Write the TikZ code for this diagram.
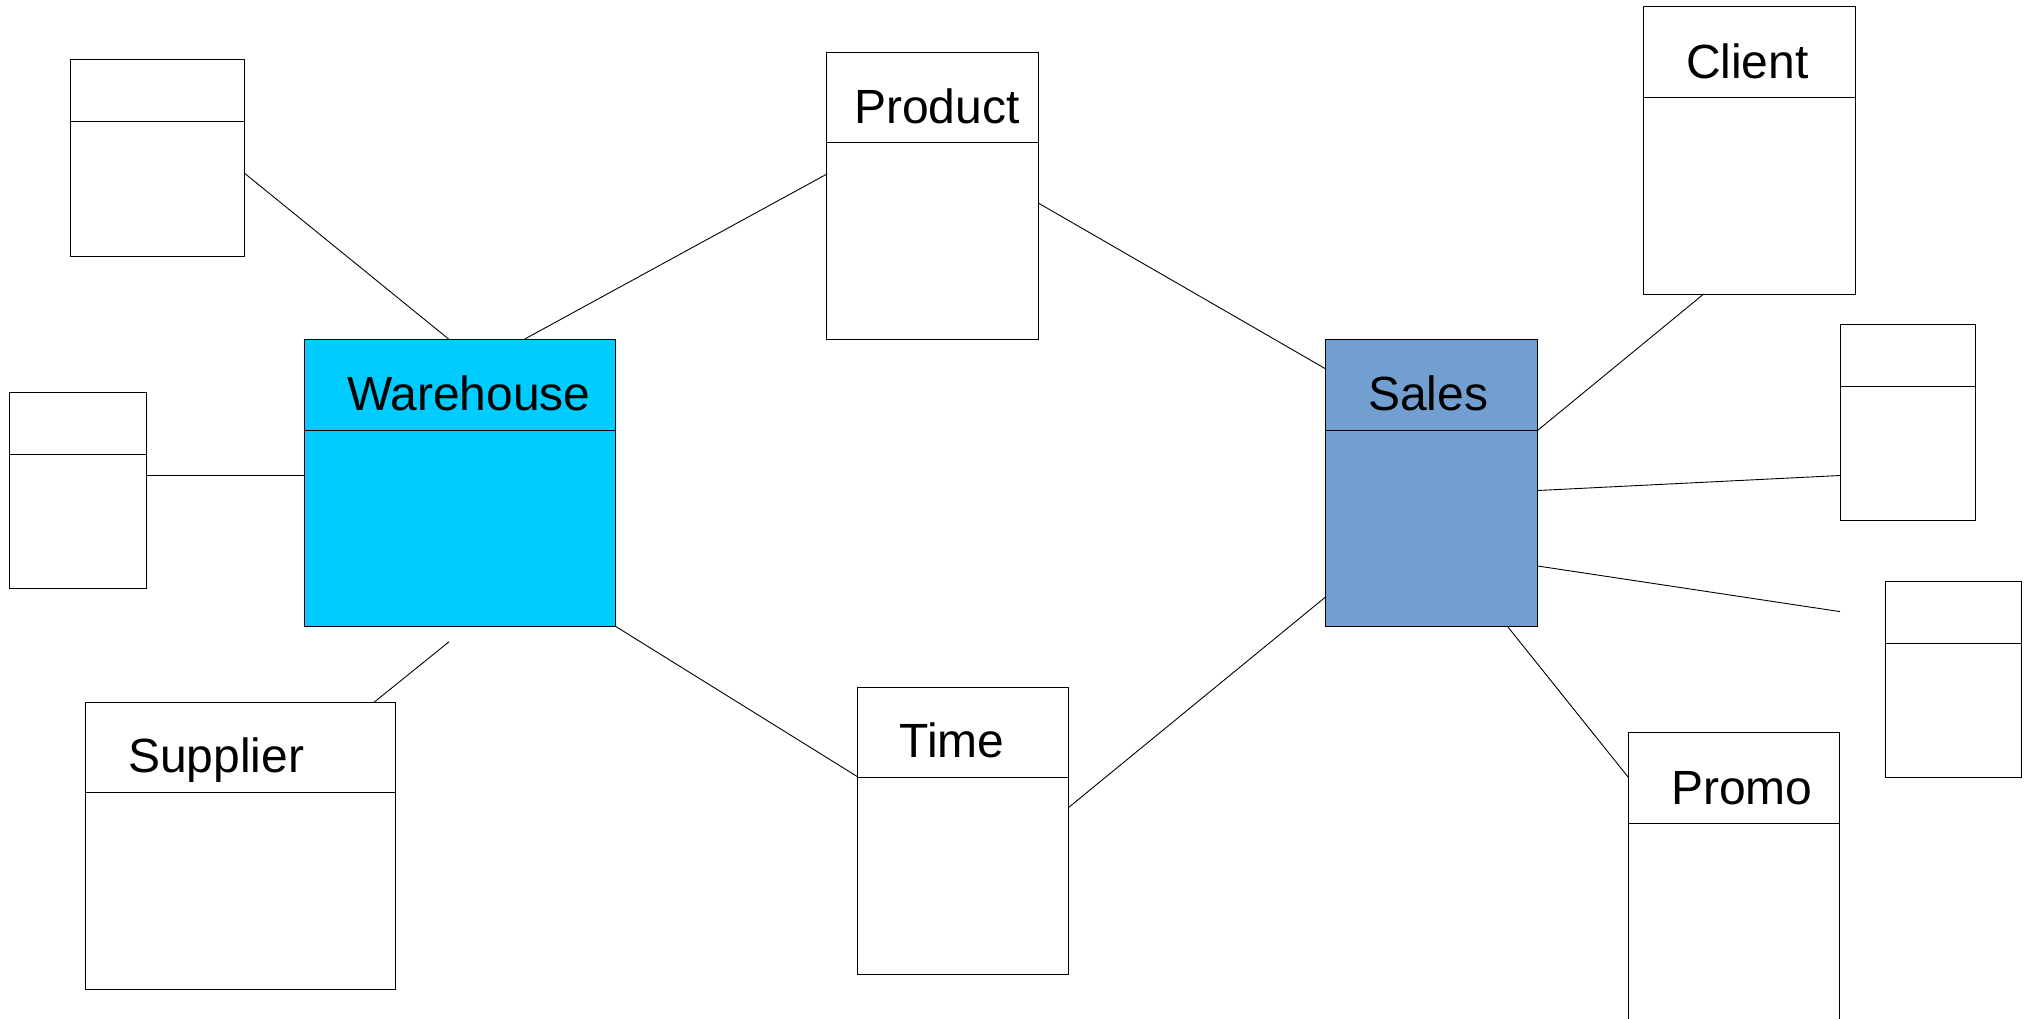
\documentclass[tikz,border=0pt]{standalone}
\usepackage{fontspec}
\setmainfont{Liberation Sans}
\definecolor{whfill}{HTML}{00CCFF}
\definecolor{salesfill}{HTML}{729FCF}
\tikzset{
  cls/.style 2 args={draw=black, line width=1pt, rectangle, anchor=north west,
    inner sep=0pt, outer sep=0pt, minimum width=#1, minimum height=#2},
  title/.style={anchor=base west, inner sep=0pt, outer sep=0pt,
    font=\fontsize{48}{57}\selectfont},
  link/.style={draw=black, line width=0.9pt},
  divider/.style={draw=black, line width=1pt}
}
\begin{document}
\begin{tikzpicture}[x=1pt, y=-1pt]
  \clip (0,0) rectangle (2033,1018);
  \fill[white] (0,0) rectangle (2033,1018);

  % class boxes
  \node[cls={174.1pt}{196.9pt}] (a1) at (70.5,59.3) {};
  \node[cls={136.6pt}{196.1pt}] (a2) at (9.8,392.6) {};
  \node[cls={310.4pt}{287.1pt}, fill=whfill] (wh) at (304.9,339.1) {};
  \node[cls={211.6pt}{286.9pt}] (prod) at (826.8,52.2) {};
  \node[cls={211.8pt}{287.1pt}, fill=salesfill] (sales) at (1325.9,339.1) {};
  \node[cls={211.6pt}{287.4pt}] (client) at (1643.6,6.6) {};
  \node[cls={135.9pt}{196.1pt}] (a3) at (1840,324.2) {};
  \node[cls={136.1pt}{196.3pt}] (a4) at (1885.5,581.4) {};
  \node[cls={211.3pt}{287pt}] (promo) at (1628.6,732.3) {};
  \node[cls={310.2pt}{287pt}] (supp) at (85.6,702.3) {};
  \node[cls={211.3pt}{286.7pt}] (time) at (857.5,687.3) {};

  % header dividers
  \foreach \n/\d in {a1/62.6, a2/61.8, wh/91.2, prod/90.4, sales/91.2,
                     client/90.8, a3/62.2, a4/61.9, promo/90.7, supp/90.4, time/90.4}
    \draw[divider] ([yshift=-\d pt]\n.north west) -- ([yshift=-\d pt]\n.north east);

  % titles
  \node[title] (twh) at (347,410.4) {Warehouse};
  \node[title] (tprod) at (854,123.1) {Product};
  \node[title] (tsales) at (1368,410.4) {Sales};
  \node[title] (tclient) at (1686,78.8) {Client};
  \node[title] (tpromo) at (1671,804) {Promo};
  \node[title] (tsupp) at (128,772.7) {Supplier};
  \node[title] (ttime) at (899.5,757.3) {Time};

  % free ends of the two open connectors
  \coordinate (suppend) at (449.1,641.7);
  \coordinate (salesend) at (1840,611.6);

  % connectors
  \draw[link] ([yshift=-114pt]a1.north east) -- ([xshift=143.8pt]wh.north west);
  \draw[link] ([xshift=219.7pt]wh.north west) -- ([yshift=-121.9pt]prod.north west);
  \draw[link] ([yshift=-82.5pt]a2.north east) -- ([yshift=-136pt]wh.north west);
  \draw[link] ([xshift=288.4pt]supp.north west) -- (suppend);
  \draw[link] (wh.south east) -- ([yshift=-89.4pt]time.north west);
  \draw[link] ([yshift=-150.9pt]prod.north east) -- ([yshift=-29.9pt]sales.north west);
  \draw[link] ([yshift=-120pt]time.north east) -- ([yshift=-257.6pt]sales.north west);
  \draw[link] ([xshift=60.1pt]client.south west) -- ([yshift=-91.2pt]sales.north east);
  \draw[link] ([yshift=-151.4pt]sales.north east) -- ([yshift=-151.3pt]a3.north west);
  \draw[link] ([yshift=-226.9pt]sales.north east) -- (salesend);
  \draw[link] ([xshift=181.4pt]sales.south west) -- ([yshift=-45.4pt]promo.north west);
\end{tikzpicture}
\end{document}
